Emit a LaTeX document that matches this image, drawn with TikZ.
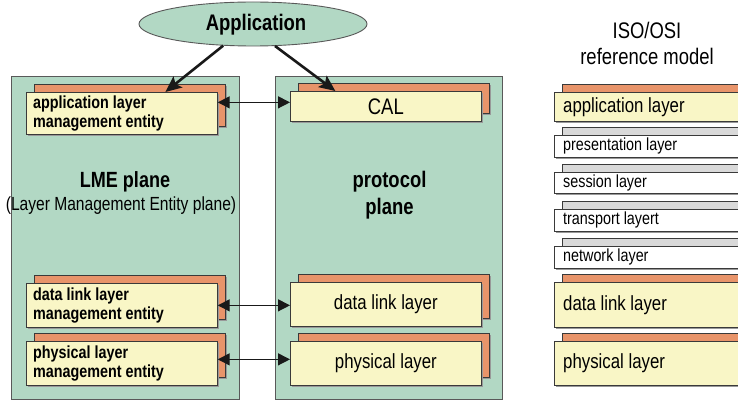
\documentclass[tikz,border=0pt]{standalone}
\usepackage{fontspec}
\setmainfont{Liberation Sans}[FakeStretch=0.82]
\usetikzlibrary{arrows.meta,shapes.geometric,shadows}

\definecolor{planegreen}{HTML}{B2D8C4}
\definecolor{cream}{HTML}{F9F6C6}
\definecolor{layerorange}{HTML}{E8946A}
\definecolor{layergray}{HTML}{D9D9D9}
\definecolor{edge}{HTML}{3A3A3A}

\newcommand{\fs}[1]{\fontsize{#1}{#1}\selectfont}

% front box of a layer with its shifted back copy
% #1 name, #2 x, #3 y, #4 width, #5 height, #6 back fill, #7 front fill
\newcommand{\stacked}[7]{%
  \node[backbox, fill=#6, minimum width=#4pt, minimum height=#5pt, anchor=north west] at (#2+8,#3-8) {};
  \node[frontbox, fill=#7, minimum width=#4pt, minimum height=#5pt, anchor=north west] (#1) at (#2,#3) {};
}

\tikzset{
  plane/.style={draw=black!65, fill=planegreen, line width=0.9pt, anchor=north west, inner sep=0pt},
  backbox/.style={draw=edge, line width=0.7pt, inner sep=0pt,
    drop shadow={shadow xshift=1.2pt, shadow yshift=-1.2pt, fill=black!40, opacity=1}},
  frontbox/.style={draw=edge, line width=0.7pt, inner sep=0pt,
    drop shadow={shadow xshift=1.2pt, shadow yshift=-1.2pt, fill=black!40, opacity=1}},
  entlabel/.style={anchor=west, align=left, inner sep=0pt, font=\bfseries\fontsize{17.5}{19.5}\selectfont},
  layerlabel/.style={inner sep=0pt, font=\fs{20.5}},
  osibig/.style={anchor=west, inner sep=0pt, font=\fs{20.5}},
  osismall/.style={anchor=west, inner sep=0pt, font=\fs{17.5}},
  biarrow/.style={{Triangle[length=12pt,width=12pt]}-{Triangle[length=12pt,width=12pt]}, line width=1.3pt, draw=black!90},
  apparrow/.style={-{Stealth[length=16pt,width=14pt,inset=3pt]}, line width=2.6pt, draw=black!90},
}

\begin{document}
\begin{tikzpicture}[x=1pt, y=-1pt]
\useasboundingbox (0,0) rectangle (738,401);
\clip (0,0) rectangle (738,401);

% application on top
\node[ellipse, draw=black!65, fill=planegreen, line width=0.9pt, minimum width=228pt, minimum height=44pt, inner sep=0pt]
  (app) at (253,24) {};
\node[inner sep=0pt, anchor=base, font=\bfseries\fs{22.5}] (apptext) at (256,31) {Application};

% the two planes
\node[plane, minimum width=228pt, minimum height=323pt] (lme) at (11,76) {};
\node[plane, minimum width=227pt, minimum height=323pt] (proto) at (275,76) {};

\node[anchor=base, inner sep=0pt, font=\bfseries\fs{22}] (lmetitle) at (125,187) {LME plane};
\node[anchor=base, inner sep=0pt, font=\fs{19}] (lmesub) at (121,210) {(Layer Management Entity plane)};
\node[anchor=base, inner sep=0pt, font=\bfseries\fs{22.5}] (prototitle) at (389.5,187) {protocol};
\node[anchor=base, inner sep=0pt, font=\bfseries\fs{22.5}] (protoplane) at (389.5,214) {plane};

% layer management entities
\stacked{lmeapp}{26}{92}{191}{42}{layerorange}{cream}
\stacked{lmedl}{26}{283}{191}{44}{layerorange}{cream}
\stacked{lmeph}{26}{341}{191}{44}{layerorange}{cream}
\node[entlabel] at ([xshift=7pt]lmeapp.west) {application layer\\management entity};
\node[entlabel] at ([xshift=7pt]lmedl.west) {data link layer\\management entity};
\node[entlabel] at ([xshift=7pt]lmeph.west) {physical layer\\management entity};

% protocol layers
\stacked{cal}{290}{91}{191}{30}{layerorange}{cream}
\stacked{pdl}{290}{282}{191}{44}{layerorange}{cream}
\stacked{pph}{290}{341}{191}{44}{layerorange}{cream}
\node[layerlabel, font=\fs{22.5}] at (cal) {CAL};
\node[layerlabel] at (pdl) {data link layer};
\node[layerlabel] at (pph) {physical layer};

% ISO/OSI reference model
\node[anchor=base, inner sep=0pt, font=\fs{22.5}] (isotitle) at (647,39) {ISO/OSI};
\node[anchor=base, inner sep=0pt, font=\fs{22.5}] (isosub) at (647,65) {reference model};

\stacked{osiapp}{554}{92}{200}{29}{layerorange}{cream}
\stacked{osipres}{554}{135}{200}{22}{layergray}{white}
\stacked{osises}{554}{172}{200}{21}{layergray}{white}
\stacked{ositra}{554}{209}{200}{22}{layergray}{white}
\stacked{osinet}{554}{246}{200}{22}{layergray}{white}
\stacked{osidl}{554}{282}{200}{45}{layerorange}{cream}
\stacked{osiph}{554}{341}{200}{44}{layerorange}{cream}
\node[osibig] at ([xshift=9pt]osiapp.west) {application layer};
\node[osismall] at ([xshift=9pt]osipres.west) {presentation layer};
\node[osismall] at ([xshift=9pt]osises.west) {session layer};
\node[osismall] at ([xshift=9pt]ositra.west) {transport layert};
\node[osismall] at ([xshift=9pt]osinet.west) {network layer};
\node[osibig] at ([xshift=9pt]osidl.west) {data link layer};
\node[osibig] at ([xshift=9pt]osiph.west) {physical layer};

% connectors
\draw[apparrow] (app.216) -- ([xshift=43.5pt]lmeapp.north);
\draw[apparrow] (app.315) -- ([xshift=-50.5pt]cal.north);
\draw[biarrow] ([yshift=4pt]cal.west -| lmeapp.east) -- ([yshift=4pt]cal.west);
\draw[biarrow] (lmedl.east) -- (lmedl.east -| pdl.west);
\draw[biarrow] ([yshift=4pt]lmeph.east) -- ([yshift=4pt]lmeph.east -| pph.west);
\end{tikzpicture}
\end{document}
